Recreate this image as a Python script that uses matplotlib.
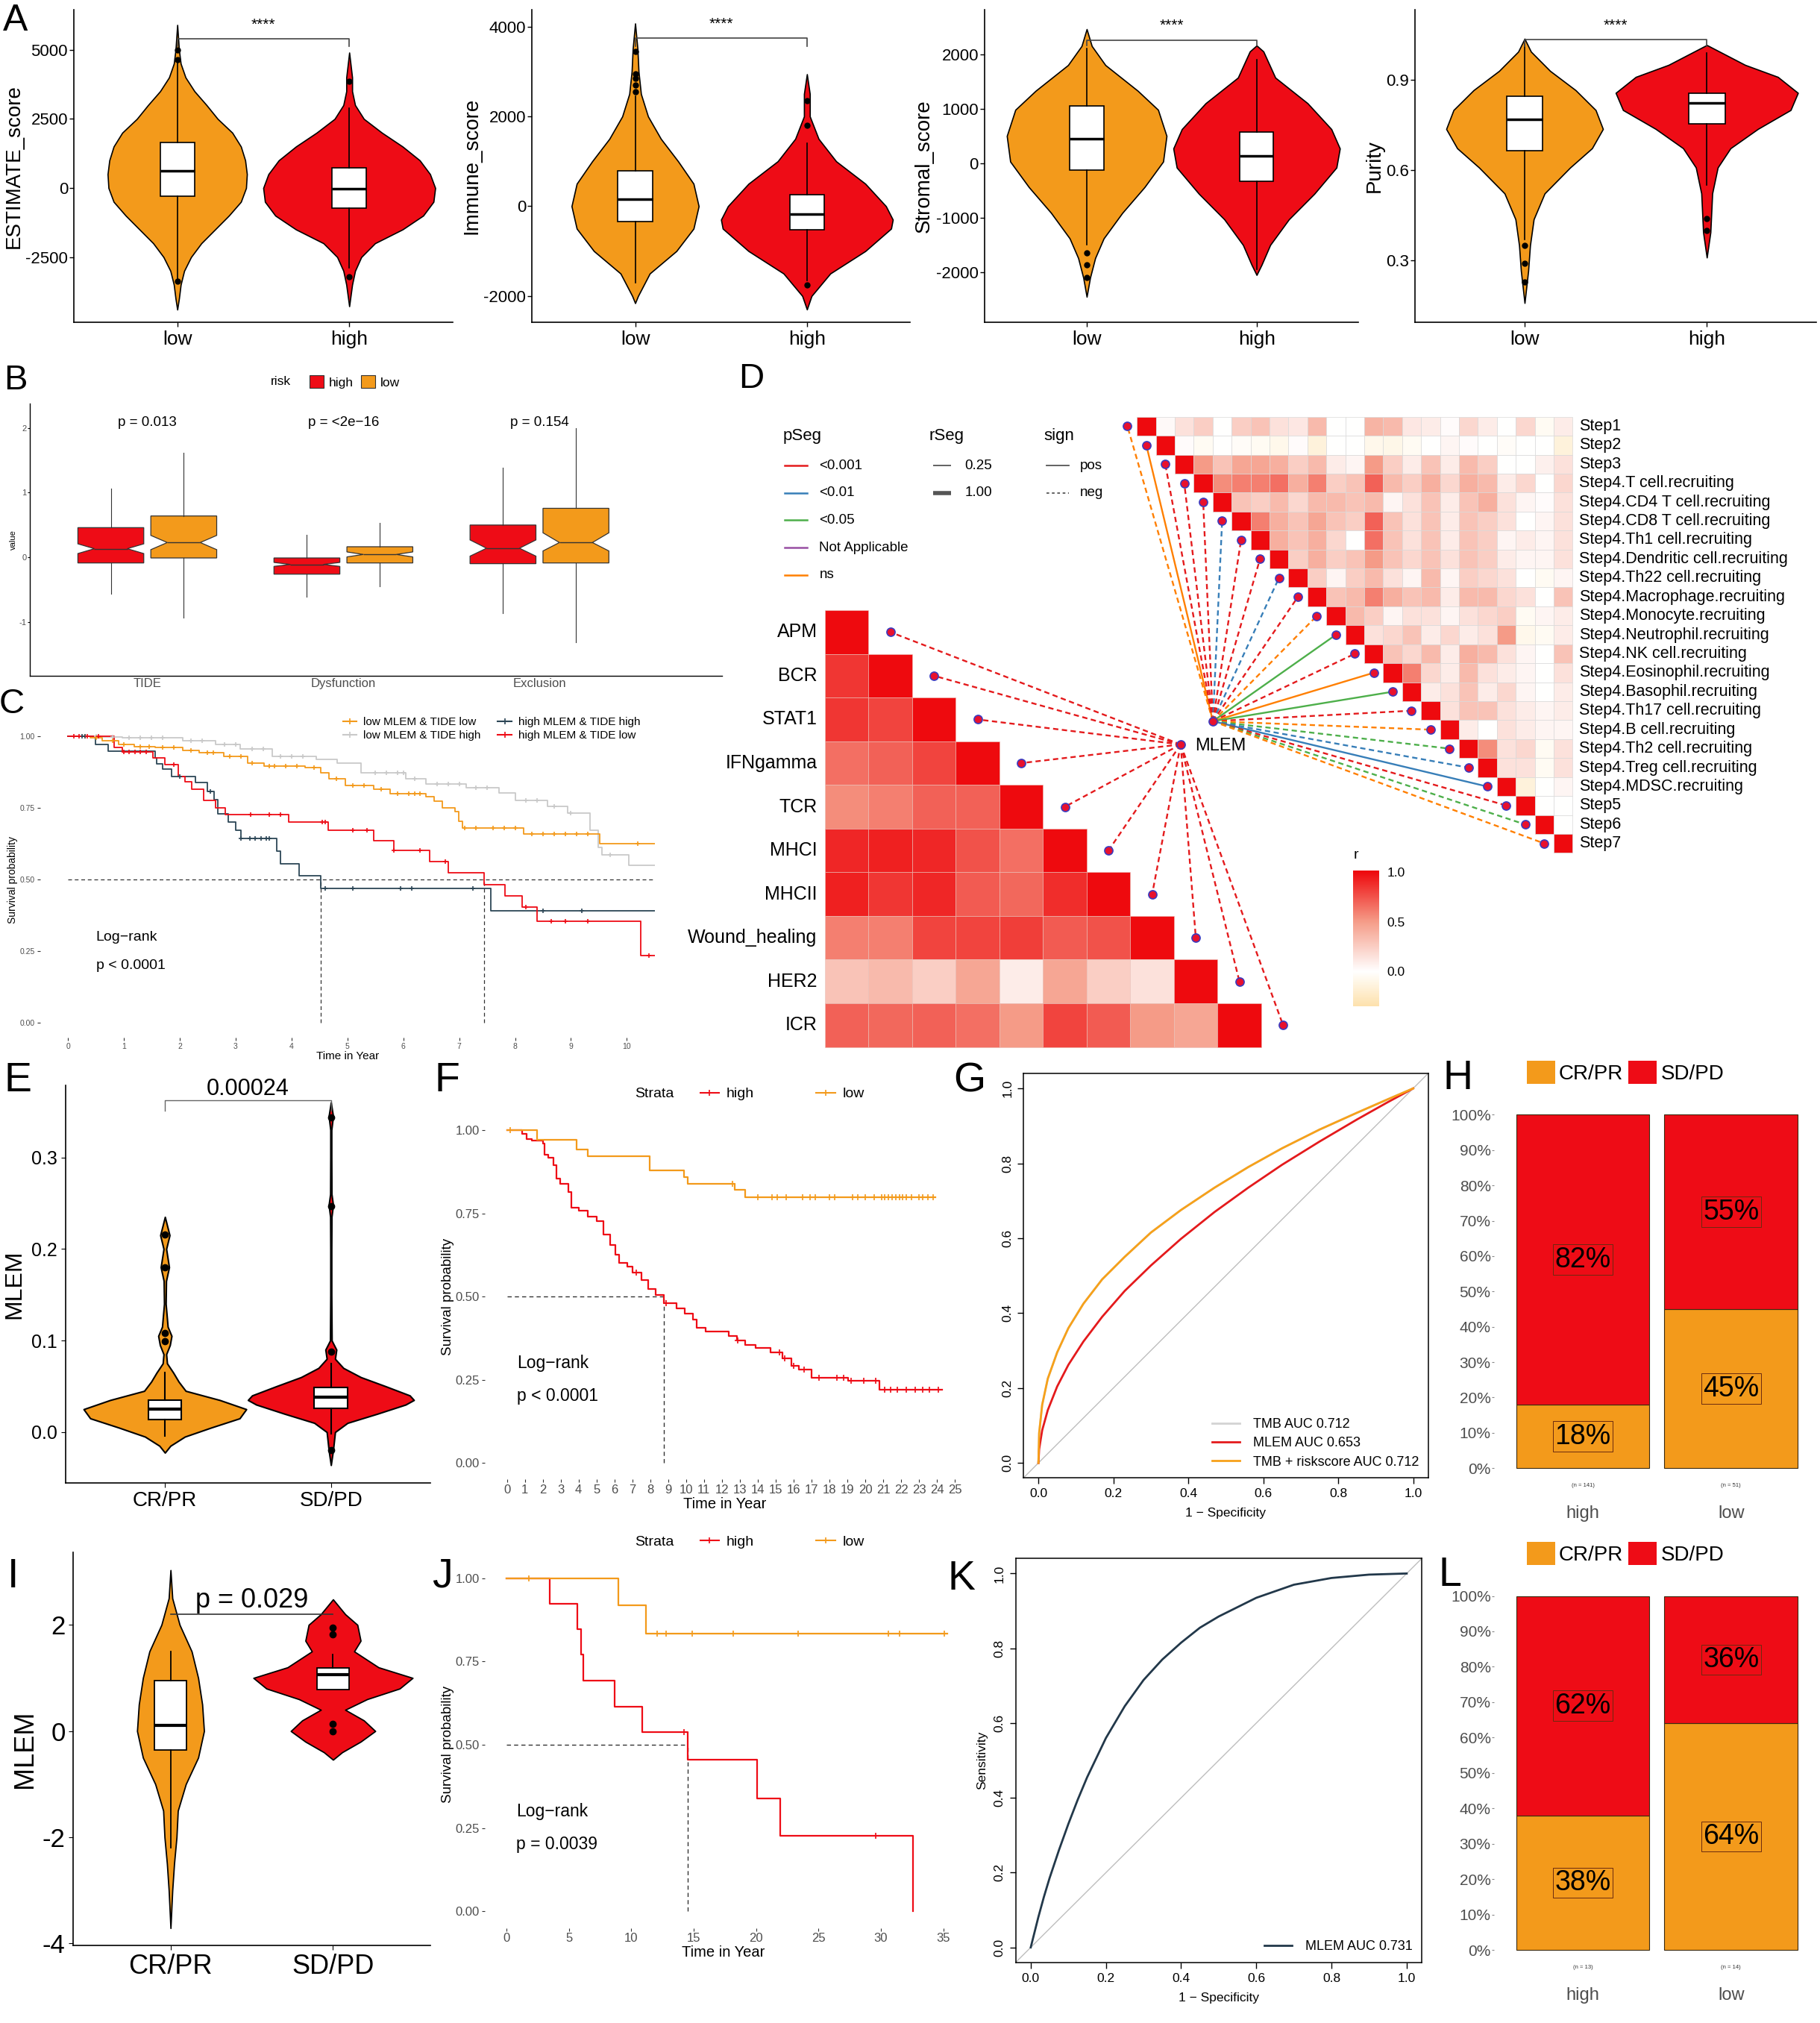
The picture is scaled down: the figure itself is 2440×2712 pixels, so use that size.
# -*- coding: utf-8 -*-
"""Multi-panel immune / response figure (panels A-L), redrawn with matplotlib."""

import numpy as np
import matplotlib
matplotlib.use('Agg')
import matplotlib.pyplot as plt
from matplotlib.colors import LinearSegmentedColormap, Normalize
from matplotlib.cm import ScalarMappable
from matplotlib.lines import Line2D
from matplotlib.patches import Patch

REG = ['Liberation Sans', 'DejaVu Sans']
NAR = ['Liberation Sans Narrow', 'Liberation Sans', 'DejaVu Sans']
plt.rcParams['font.family'] = REG
plt.rcParams['axes.unicode_minus'] = False

ORANGE = '#F39A1B'
RED = '#EE0C16'
SLATE = '#2C4656'
LGRAY = '#C9C9C9'
TXTGRAY = '#4D4D4D'

# ------------------------------------------------------------------ data
# A: violin outlines (value, half width) and box stats [whislo, q1, med, q3, whishi]
est_low_y = [-4400, -4000, -3500, -3000, -2500, -2000, -1500, -1000, -500, 0, 500,
             1000, 1500, 2000, 2500, 3000, 3500, 4000, 4500, 5000, 5900]
est_low_w = [0, 0.01, 0.02, 0.04, 0.08, 0.14, 0.22, 0.30, 0.37, 0.40, 0.405,
             0.395, 0.37, 0.32, 0.235, 0.17, 0.10, 0.048, 0.02, 0.01, 0]
est_high_y = [-4280, -3500, -3000, -2500, -2000, -1500, -1000, -500, 0, 500, 1000,
              1500, 2000, 2500, 3000, 3500, 4000, 4900]
est_high_w = [0, 0.017, 0.034, 0.07, 0.15, 0.31, 0.43, 0.49, 0.50, 0.47, 0.41,
              0.31, 0.19, 0.085, 0.034, 0.017, 0.017, 0]
est_low_box = [-3300, -300, 620, 1650, 4550]
est_high_box = [-2900, -730, -18, 720, 2900]
est_low_out = [5000, 4650, -3380]
est_high_out = [3850, -3200]

imm_low_y = [-2160, -2000, -1500, -1000, -500, 0, 500, 1000, 1500, 2000, 2500, 3000, 3500, 4070]
imm_low_w = [0, 0.017, 0.085, 0.24, 0.34, 0.37, 0.34, 0.25, 0.15, 0.075, 0.034, 0.02, 0.014, 0]
imm_high_y = [-2300, -2000, -1500, -1000, -500, -300, 0, 500, 1000, 1500, 2000, 2500, 2940]
imm_high_w = [0, 0.027, 0.136, 0.34, 0.49, 0.50, 0.46, 0.34, 0.17, 0.068, 0.017, 0.017, 0]
imm_low_box = [-1700, -350, 150, 787, 2450]
imm_high_box = [-1650, -525, -180, 250, 1400]
imm_low_out = [3450, 2950, 2850, 2700, 2550]
imm_high_out = [2350, 1800, -1750]

str_low_y = [-2450, -2100, -1740, -1380, -910, -440, 30, 500, 980, 1330, 1800, 2150, 2460]
str_low_w = [0, 0.02, 0.05, 0.10, 0.21, 0.34, 0.45, 0.47, 0.42, 0.30, 0.11, 0.03, 0]
str_high_y = [-2050, -1860, -1500, -1030, -560, -80, 270, 625, 1100, 1570, 2050, 2160]
str_high_w = [0, 0.03, 0.08, 0.19, 0.34, 0.47, 0.49, 0.44, 0.30, 0.11, 0.04, 0]
str_low_box = [-1500, -120, 450, 1050, 2100]
str_high_box = [-1950, -330, 140, 570, 1900]
str_low_out = [-1650, -1870, -2100]
str_high_out = []

pur_low_y = [0.159, 0.266, 0.35, 0.437, 0.523, 0.609, 0.673, 0.737, 0.80, 0.866, 0.93, 0.994, 1.037]
pur_low_w = [0, 0.02, 0.03, 0.05, 0.11, 0.25, 0.37, 0.43, 0.39, 0.28, 0.14, 0.035, 0]
pur_high_y = [0.31, 0.394, 0.523, 0.609, 0.673, 0.737, 0.80, 0.857, 0.91, 0.95, 0.994, 1.016]
pur_high_w = [0, 0.02, 0.03, 0.06, 0.13, 0.28, 0.46, 0.50, 0.39, 0.21, 0.07, 0]
pur_low_box = [0.37, 0.665, 0.77, 0.845, 1.02]
pur_high_box = [0.55, 0.754, 0.823, 0.857, 0.99]
pur_low_out = [0.35, 0.29, 0.23]
pur_high_out = [0.44, 0.40]

# B: TIDE boxes [whislo, q1, med, q3, whishi] and notch [cilo, cihi]
b_groups = ['TIDE', 'Dysfunction', 'Exclusion']
b_high_box = [[-0.565, -0.085, 0.135, 0.46, 1.065],
              [-0.608, -0.258, -0.108, -0.008, 0.354],
              [-0.865, -0.096, 0.142, 0.50, 1.38]]
b_low_box = [[-0.93, -0.008, 0.23, 0.64, 1.61],
             [-0.44, -0.085, 0.046, 0.165, 0.53],
             [-1.31, -0.085, 0.23, 0.758, 1.99]]
b_high_notch = [[0.06, 0.21], [-0.138, -0.077], [0.02, 0.27]]
b_low_notch = [[0.12, 0.34], [0.008, 0.085], [0.10, 0.38]]
b_pvals = ['p = 0.013', 'p = <2e\u221216', 'p = 0.154']

# C: Kaplan-Meier, four MLEM x TIDE strata
c_ll_t = [0, 0.40, 0.62, 0.91, 1.19, 1.56, 2.06, 2.35, 2.79, 3.22, 3.51, 4.24, 4.53, 4.67,
          4.96, 5.47, 5.76, 6.41, 6.55, 6.70, 6.92, 6.99, 7.06, 8.15, 9.52, 10.5]
c_ll_s = [1.0, 0.994, 0.985, 0.972, 0.964, 0.96, 0.95, 0.942, 0.929, 0.907, 0.896, 0.89, 0.873,
          0.851, 0.829, 0.816, 0.799, 0.79, 0.773, 0.751, 0.738, 0.704, 0.679, 0.659, 0.626, 0.626]
c_ll_cens = [0.3, 0.5, 0.8, 1.0, 1.3, 1.45, 1.7, 1.9, 2.2, 2.5, 2.6, 2.9, 3.1, 3.3, 3.6, 3.7,
             3.9, 4.1, 4.4, 4.8, 5.1, 5.3, 5.6, 5.9, 6.1, 6.2, 6.3, 7.1, 7.3, 7.6, 7.8, 8.0,
             8.3, 8.5, 8.7, 8.9, 9.1, 9.3, 10.2]
c_lh_t = [0, 0.62, 0.98, 2.06, 2.64, 3.08, 3.66, 4.45, 4.82, 5.25, 6.05, 6.41, 7.13, 7.71,
          8.0, 8.58, 8.94, 9.34, 9.49, 9.56, 10.03, 10.5]
c_lh_s = [1.0, 0.997, 0.994, 0.985, 0.972, 0.955, 0.929, 0.92, 0.905, 0.873, 0.851, 0.834,
          0.821, 0.803, 0.777, 0.756, 0.732, 0.673, 0.613, 0.587, 0.549, 0.549]
c_lh_cens = [0.5, 0.8, 1.1, 1.3, 1.5, 1.7, 2.2, 2.4, 2.8, 3.0, 3.3, 3.5, 3.8, 4.0, 4.2, 5.5,
             5.7, 5.9, 6.0, 6.2, 6.6, 6.8, 7.0, 7.3, 7.5, 8.2, 8.4, 8.7, 9.0, 9.7]
c_hh_t = [0, 0.49, 0.72, 1.56, 1.59, 1.70, 1.86, 2.28, 2.50, 2.61, 2.68, 2.87, 3.00, 3.09,
          3.74, 3.80, 4.14, 4.53, 7.57, 10.5]
c_hh_s = [1.0, 0.972, 0.948, 0.925, 0.903, 0.886, 0.86, 0.838, 0.808, 0.78, 0.73, 0.70, 0.673,
          0.643, 0.60, 0.556, 0.513, 0.47, 0.39, 0.39]
c_hh_cens = [0.25, 0.3, 2.0, 2.55, 3.1, 3.25, 3.35, 3.45, 3.55, 3.6, 4.6, 5.1, 5.95, 6.15,
             7.25, 8.5, 9.2]
c_hl_t = [0, 0.83, 0.98, 1.52, 1.74, 1.98, 2.10, 2.21, 2.43, 2.64, 2.82, 3.95, 4.66, 5.47,
          5.83, 6.47, 6.81, 7.44, 7.82, 8.13, 8.40, 10.25, 10.5]
c_hl_s = [1.0, 0.96, 0.946, 0.925, 0.90, 0.86, 0.842, 0.816, 0.777, 0.751, 0.727, 0.70, 0.673,
          0.636, 0.602, 0.563, 0.523, 0.483, 0.444, 0.405, 0.354, 0.236, 0.236]
c_hl_cens = [0.1, 0.2, 0.35, 0.55, 1.0, 1.1, 1.2, 1.3, 1.4, 1.9, 3.27, 3.6, 3.8, 4.55, 4.6,
             5.1, 5.35, 5.83, 6.3, 6.75, 8.2, 8.65, 8.9, 9.3, 10.4]
c_medians = [4.53, 7.44]

# D: correlation heatmaps
immune_sets = ['APM', 'BCR', 'STAT1', 'IFNgamma', 'TCR', 'MHCI', 'MHCII',
               'Wound_healing', 'HER2', 'ICR']
immune_r = [[1.0],
            [0.85, 1.0],
            [0.85, 0.80, 1.0],
            [0.65, 0.70, 0.80, 1.0],
            [0.55, 0.60, 0.70, 0.70, 1.0],
            [0.90, 0.92, 0.90, 0.75, 0.65, 1.0],
            [0.92, 0.85, 0.90, 0.72, 0.68, 0.88, 1.0],
            [0.60, 0.60, 0.80, 0.80, 0.82, 0.72, 0.75, 1.0],
            [0.30, 0.35, 0.25, 0.45, 0.10, 0.45, 0.25, 0.15, 1.0],
            [0.70, 0.68, 0.70, 0.65, 0.50, 0.80, 0.72, 0.50, 0.45, 1.0]]
steps = ['Step1', 'Step2', 'Step3', 'Step4.T cell.recruiting', 'Step4.CD4 T cell.recruiting',
         'Step4.CD8 T cell.recruiting', 'Step4.Th1 cell.recruiting',
         'Step4.Dendritic cell.recruiting', 'Step4.Th22 cell.recruiting',
         'Step4.Macrophage.recruiting', 'Step4.Monocyte.recruiting',
         'Step4.Neutrophil.recruiting', 'Step4.NK cell.recruiting',
         'Step4.Eosinophil.recruiting', 'Step4.Basophil.recruiting',
         'Step4.Th17 cell.recruiting', 'Step4.B cell.recruiting', 'Step4.Th2 cell.recruiting',
         'Step4.Treg cell.recruiting', 'Step4.MDSC.recruiting', 'Step5', 'Step6', 'Step7']
# off-diagonal r to the right of each diagonal cell
step_r = [[0.03, 0.15, 0.25, 0.0, 0.25, 0.3, 0.15, 0.12, 0.35, 0.0, 0.0, 0.38, 0.35, 0.12, 0.1, 0.02, 0.2, 0.1, 0.0, 0.2, -0.05, 0.1],
          [0.02, -0.05, 0.0, -0.03, -0.05, -0.08, 0.02, -0.15, 0.0, 0.0, -0.08, -0.1, -0.05, 0.0, 0.05, 0.02, 0.0, -0.03, 0.0, 0.0, -0.15],
          [0.5, 0.3, 0.45, 0.45, 0.4, 0.25, 0.35, 0.1, 0.05, 0.5, 0.25, 0.1, 0.3, 0.1, 0.35, 0.25, 0.0, 0.0, 0.08, 0.15],
          [0.55, 0.6, 0.6, 0.65, 0.4, 0.6, 0.25, 0.3, 0.7, 0.35, 0.25, 0.4, 0.2, 0.4, 0.35, 0.1, 0.2, 0.0, 0.2],
          [0.3, 0.25, 0.35, 0.2, 0.35, 0.35, 0.3, 0.35, 0.05, 0.15, 0.3, 0.1, 0.3, 0.4, 0.15, 0.05, 0.02, 0.15],
          [0.6, 0.4, 0.3, 0.45, 0.3, 0.25, 0.7, 0.3, 0.15, 0.3, 0.1, 0.3, 0.25, 0.15, 0.0, 0.05, 0.15],
          [0.4, 0.3, 0.4, 0.2, 0.0, 0.65, 0.3, 0.15, 0.3, 0.1, 0.3, 0.25, 0.05, 0.1, 0.05, 0.15],
          [0.25, 0.4, 0.25, 0.3, 0.5, 0.3, 0.2, 0.3, 0.15, 0.3, 0.25, 0.1, 0.05, 0.05, 0.15],
          [0.25, 0.05, 0.25, 0.35, 0.15, 0.05, 0.35, 0.05, 0.25, 0.2, 0.15, 0.0, -0.05, 0.05],
          [0.3, 0.35, 0.6, 0.4, 0.3, 0.35, 0.1, 0.35, 0.35, 0.2, 0.15, 0.0, 0.3],
          [0.35, 0.25, 0.05, 0.15, 0.15, 0.05, 0.15, 0.2, 0.25, -0.05, 0.05, 0.1],
          [0.15, 0.2, 0.3, 0.1, 0.2, 0.1, 0.15, 0.5, -0.08, -0.05, 0.1],
          [0.3, 0.2, 0.35, 0.1, 0.4, 0.35, 0.15, 0.05, 0.0, 0.3],
          [0.6, 0.2, 0.1, 0.35, 0.15, 0.1, 0.05, 0.0, 0.15],
          [0.1, 0.15, 0.3, 0.1, 0.2, 0.05, 0.0, 0.1],
          [0.15, 0.3, 0.3, 0.15, 0.1, 0.05, 0.1],
          [0.1, 0.0, 0.15, 0.1, 0.05, 0.05],
          [0.55, 0.15, 0.2, -0.05, 0.15],
          [0.15, 0.15, -0.05, 0.15],
          [-0.15, 0.0, 0.05],
          [0.0, 0.0],
          [0.0],
          []]
step_p = ['ns', 'ns', '<0.001', '<0.001', '<0.001', '<0.01', '<0.001', '<0.001', '<0.01',
          '<0.001', 'ns', '<0.05', '<0.001', 'ns', '<0.05', '<0.001', 'ns', '<0.05', '<0.01',
          '<0.01', '<0.001', '<0.05', 'ns']
step_sign = ['neg', 'pos', 'neg', 'neg', 'neg', 'neg', 'neg', 'neg', 'neg', 'neg', 'neg', 'pos',
             'neg', 'pos', 'pos', 'neg', 'neg', 'neg', 'neg', 'pos', 'neg', 'neg', 'neg']
immune_p = ['<0.001'] * 10
immune_sign = ['neg'] * 10
p_levels = ['<0.001', '<0.01', '<0.05', 'Not Applicable', 'ns']
p_colors = ['#E41A1C', '#377EB8', '#4DAF4A', '#984EA3', '#FF7F00']

# E / I: MLEM by response
resp_groups = ['CR/PR', 'SD/PD']
e_cr_y = [-0.0225, -0.015, -0.005, 0.005, 0.015, 0.025, 0.035, 0.045, 0.055, 0.065, 0.075,
          0.085, 0.095, 0.105, 0.115, 0.14, 0.165, 0.18, 0.2, 0.215, 0.235]
e_cr_w = [0, 0.033, 0.12, 0.28, 0.45, 0.49, 0.33, 0.125, 0.083, 0.05, 0.013, 0.008, 0.03,
          0.04, 0.017, 0.005, 0.007, 0.025, 0.008, 0.028, 0]
e_sd_y = [-0.036, -0.02, 0.0, 0.01, 0.02, 0.03, 0.035, 0.04, 0.05, 0.06, 0.07, 0.08, 0.09,
          0.1, 0.15, 0.2, 0.235, 0.248, 0.26, 0.3, 0.33, 0.345, 0.36]
e_sd_w = [0, 0.013, 0.025, 0.1, 0.28, 0.45, 0.5, 0.475, 0.33, 0.18, 0.075, 0.025, 0.033,
          0.005, 0.003, 0.003, 0.004, 0.013, 0.004, 0.003, 0.003, 0.013, 0]
e_cr_box = [-0.004, 0.014, 0.025, 0.035, 0.065]
e_sd_box = [-0.002, 0.026, 0.038, 0.049, 0.075]
e_cr_out = [0.216, 0.18, 0.108, 0.099]
e_sd_out = [0.344, 0.247, 0.088, -0.02]

i_cr_y = [-3.71, -3.0, -2.5, -2.0, -1.5, -1.0, -0.5, 0.0, 0.5, 1.0, 1.5, 2.0, 2.5, 3.03]
i_cr_w = [0, 0.011, 0.022, 0.037, 0.045, 0.094, 0.17, 0.206, 0.195, 0.17, 0.13, 0.056, 0.011, 0]
i_sd_y = [-0.54, -0.4, -0.2, 0.0, 0.2, 0.4, 0.6, 0.8, 1.0, 1.2, 1.5, 1.7, 2.0, 2.2, 2.48]
i_sd_w = [0, 0.056, 0.17, 0.26, 0.19, 0.075, 0.21, 0.41, 0.49, 0.28, 0.13, 0.17, 0.15, 0.075, 0]
i_cr_box = [-2.2, -0.35, 0.105, 0.95, 1.5]
i_sd_box = [0.78, 0.78, 1.06, 1.19, 1.44]
i_cr_out = []
i_sd_out = [1.95, 1.82, 0.13, 0.0]

# F / J: Kaplan-Meier by risk
f_low_t = [0, 1.67, 3.9, 4.5, 7.95, 9.88, 10.1, 12.7, 13.3, 23.9]
f_low_s = [1.0, 0.97, 0.941, 0.921, 0.879, 0.86, 0.839, 0.82, 0.798, 0.798]
f_low_cens = [0.2, 12.6, 14.0, 14.8, 15.1, 15.6, 16.5, 16.9, 17.2, 18.0, 18.3, 19.3, 19.6,
              20.0, 20.5, 20.9, 21.1, 21.3, 21.5, 21.7, 21.9, 22.1, 22.3, 22.6, 23.0, 23.2,
              23.5, 23.8]
f_high_t = [0, 0.83, 1.12, 1.41, 2.0, 2.09, 2.29, 2.58, 2.77, 2.97, 3.45, 3.6, 4.03, 4.5, 5.0,
            5.39, 5.78, 6.07, 6.26, 6.74, 7.03, 7.52, 7.9, 8.29, 8.78, 9.46, 9.94, 10.4, 10.6,
            11.1, 12.4, 12.85, 13.3, 13.9, 14.7, 15.4, 15.9, 16.3, 17.0, 19.05, 20.8, 24.3]
f_high_s = [1.0, 0.99, 0.973, 0.968, 0.96, 0.926, 0.917, 0.895, 0.855, 0.838, 0.815, 0.767,
            0.758, 0.74, 0.727, 0.687, 0.656, 0.625, 0.602, 0.589, 0.571, 0.549, 0.523, 0.505,
            0.481, 0.465, 0.449, 0.43, 0.407, 0.394, 0.381, 0.367, 0.354, 0.345, 0.332, 0.314,
            0.292, 0.28, 0.256, 0.248, 0.221, 0.221]
f_high_cens = [7.2, 8.9, 12.9, 15.2, 15.5, 16.0, 16.6, 17.4, 18.4, 18.8, 19.2, 19.9, 20.6,
               21.1, 21.4, 21.8, 22.3, 22.8, 23.2, 23.6, 24.1]
f_median = 8.78

j_low_t = [0, 8.98, 11.2, 35.3]
j_low_s = [1.0, 0.918, 0.834, 0.834]
j_low_cens = [1.8, 12.1, 12.8, 14.9, 18.2, 23.4, 30.6, 31.5, 35.1]
j_high_t = [0, 3.46, 5.66, 6.0, 6.15, 8.68, 10.9, 14.5, 20.1, 21.95, 32.6]
j_high_s = [1.0, 0.924, 0.847, 0.77, 0.692, 0.615, 0.539, 0.454, 0.339, 0.227, 0.0]
j_high_cens = [14.2, 29.6]
j_median = 14.5

# G / K: ROC curves
g_fpr = [0, 0.002, 0.01, 0.025, 0.05, 0.08, 0.12, 0.17, 0.23, 0.3, 0.38, 0.47, 0.56, 0.65,
         0.75, 0.85, 0.93, 1.0]
g_tmb_tpr = [0, 0.08, 0.155, 0.225, 0.295, 0.36, 0.425, 0.49, 0.55, 0.615, 0.675, 0.735,
             0.79, 0.84, 0.89, 0.935, 0.97, 1.0]
g_mlem_tpr = [0, 0.037, 0.087, 0.141, 0.204, 0.262, 0.324, 0.39, 0.459, 0.527, 0.598, 0.67,
              0.735, 0.796, 0.858, 0.917, 0.962, 1.0]
g_combo_tpr = [0, 0.08, 0.155, 0.225, 0.295, 0.36, 0.425, 0.49, 0.55, 0.615, 0.675, 0.735,
               0.79, 0.84, 0.89, 0.935, 0.97, 1.0]
g_labels = ['TMB AUC 0.712', 'MLEM AUC 0.653', 'TMB + riskscore AUC 0.712']
k_fpr = [0, 0.01, 0.02, 0.035, 0.05, 0.075, 0.1, 0.125, 0.15, 0.2, 0.25, 0.3, 0.35, 0.4,
         0.45, 0.5, 0.6, 0.7, 0.8, 0.9, 1.0]
k_tpr = [0, 0.04, 0.08, 0.135, 0.185, 0.26, 0.33, 0.395, 0.455, 0.56, 0.645, 0.715, 0.77,
         0.815, 0.855, 0.885, 0.935, 0.97, 0.988, 0.997, 1.0]
k_label = 'MLEM AUC 0.731'

# H / L: response share by risk group (%)
risk_groups = ['high', 'low']
h_crpr = [18, 45]
h_sdpd = [82, 55]
h_n = [141, 51]
l_crpr = [38, 64]
l_sdpd = [62, 36]
l_n = [13, 14]

# ------------------------------------------------------------------ layout helpers
REF_W, REF_H = 1412.0, 1568.0


def rect(x0, y0, x1, y1):
    return [x0 / REF_W, 1 - y1 / REF_H, (x1 - x0) / REF_W, (y1 - y0) / REF_H]


def fpos(x, y):
    return x / REF_W, 1 - y / REF_H


def classic(ax, lw=1.2):
    for s in ('top', 'right'):
        ax.spines[s].set_visible(False)
    for s in ('left', 'bottom'):
        ax.spines[s].set_linewidth(lw)


def violins(ax, profiles, boxes, outs, fills, box_w=0.2, lw=1.2, med_lw=2.5, ms=5):
    for i, ((ys, ws), col) in enumerate(zip(profiles, fills)):
        ys = np.asarray(ys, float)
        ws = np.asarray(ws, float)
        ax.fill_betweenx(ys, i + 1 - ws, i + 1 + ws, facecolor=col, edgecolor='black',
                         lw=lw, zorder=1)
    stats = [dict(whislo=b[0], q1=b[1], med=b[2], q3=b[3], whishi=b[4], fliers=o)
             for b, o in zip(boxes, outs)]
    ax.bxp(stats, positions=list(range(1, len(stats) + 1)), widths=box_w, patch_artist=True,
           showcaps=False, manage_ticks=False, zorder=2,
           boxprops=dict(facecolor='white', edgecolor='black', linewidth=lw),
           medianprops=dict(color='black', lw=med_lw),
           whiskerprops=dict(color='black', lw=lw),
           flierprops=dict(marker='o', markerfacecolor='black', markeredgecolor='black',
                           markersize=ms, linestyle='none'))
    ax.set_xlim(0.4, len(stats) + 0.6)


def bracket(ax, y, drop, color='#444444', lw=1.2):
    ax.plot([1, 1, 2, 2], [y - drop, y, y, y - drop], color=color, lw=lw, clip_on=False)


def km(ax, t, s, cens, color, lw=1.6, ms=6):
    t = np.asarray(t, float)
    s = np.asarray(s, float)
    ax.step(t, s, where='post', color=color, lw=lw, zorder=3)
    idx = np.searchsorted(t, cens, side='right') - 1
    ax.plot(cens, s[idx], '+', color=color, ms=ms, mew=1.2, zorder=4)


def km_style(ax, xlim, xticks, fs, fam):
    for s in ax.spines.values():
        s.set_visible(False)
    ax.set_xlim(*xlim)
    ax.set_ylim(-0.05, 1.05)
    ax.set_xticks(xticks)
    ax.set_yticks([0, 0.25, 0.5, 0.75, 1.0])
    ax.set_yticklabels(['0.00', '0.25', '0.50', '0.75', '1.00'])
    ax.tick_params(length=3, width=0.8, color='#333333', labelcolor=TXTGRAY, labelsize=fs,
                   pad=2)
    for lab in ax.get_xticklabels() + ax.get_yticklabels():
        lab.set_family(fam)


fig = plt.figure(figsize=(24.4, 27.12), dpi=100)

# ------------------------------------------------------------------ A
a_specs = [
    ((57.5, 7.6, 351, 250), 'ESTIMATE_score', (-4869, 6447), [-2500, 0, 2500, 5000],
     [(est_low_y, est_low_w), (est_high_y, est_high_w)], [est_low_box, est_high_box],
     [est_low_out, est_high_out], 5385, 250, 5900),
    ((412.8, 7.6, 706, 250), 'Immune_score', (-2592, 4374), [-2000, 0, 2000, 4000],
     [(imm_low_y, imm_low_w), (imm_high_y, imm_high_w)], [imm_low_box, imm_high_box],
     [imm_low_out, imm_high_out], 3740, 170, 4050),
    ((764, 7.6, 1054, 250), 'Stromal_score', (-2923, 2814), [-2000, -1000, 0, 1000, 2000],
     [(str_low_y, str_low_w), (str_high_y, str_high_w)], [str_low_box, str_high_box],
     [str_low_out, str_high_out], 2260, 100, 2520),
    ((1098, 7.6, 1409, 250), 'Purity', (0.094, 1.133), [0.3, 0.6, 0.9],
     [(pur_low_y, pur_low_w), (pur_high_y, pur_high_w)], [pur_low_box, pur_high_box],
     [pur_low_out, pur_high_out], 1.033, 0.02, 1.08),
]
for r, ylab, ylim, yt, prof, bxs, outs, by, bd, sy in a_specs:
    ax = fig.add_axes(rect(*r))
    violins(ax, prof, bxs, outs, [ORANGE, RED])
    bracket(ax, by, bd)
    ax.text(1.5, sy, '****', ha='center', va='center', fontsize=15, family=NAR)
    ax.set_ylim(*ylim)
    ax.set_yticks(yt)
    ax.set_xticks([1, 2])
    ax.set_xticklabels(['low', 'high'], fontsize=19, family=NAR)
    for lab in ax.get_yticklabels():
        lab.set_family(NAR)
    ax.tick_params(axis='y', labelsize=16, length=4, width=1, pad=2)
    ax.tick_params(axis='x', length=4, width=1)
    ax.set_ylabel(ylab, fontsize=20, labelpad=2)
    classic(ax)

# ------------------------------------------------------------------ B
ax = fig.add_axes(rect(23, 313, 560, 524))
xb = np.arange(1, len(b_groups) + 1)
for boxes, notches, off, col in ((b_high_box, b_high_notch, -0.186, RED),
                                 (b_low_box, b_low_notch, 0.186, ORANGE)):
    stats = [dict(whislo=b[0], q1=b[1], med=b[2], q3=b[3], whishi=b[4], cilo=n[0], cihi=n[1],
                  fliers=[]) for b, n in zip(boxes, notches)]
    ax.bxp(stats, positions=xb + off, widths=0.336, shownotches=True, patch_artist=True,
           showcaps=False, manage_ticks=False,
           boxprops=dict(facecolor=col, edgecolor='#333333', linewidth=0.9),
           medianprops=dict(color='#333333', lw=1.0),
           whiskerprops=dict(color='#333333', lw=0.8))
for x, p in zip(xb, b_pvals):
    ax.text(x, 2.08, p, ha='center', va='center', fontsize=13.5, family=NAR)
ax.set_xlim(0.4, 3.93)
ax.set_ylim(-1.83, 2.37)
ax.set_xticks(xb)
ax.set_xticklabels(b_groups, fontsize=12, color=TXTGRAY, family=NAR)
ax.set_yticks([-1, 0, 1, 2])
ax.tick_params(axis='y', labelsize=8, length=2, labelcolor=TXTGRAY, pad=1)
ax.tick_params(axis='x', length=0, pad=2)
ax.set_ylabel('value', fontsize=8, labelpad=2)
classic(ax, lw=1.0)
fig.text(*fpos(210, 296), 'risk', fontsize=12.5, va='center', ha='left', family=NAR)
fig.legend(handles=[Patch(facecolor=RED, edgecolor='#333333', lw=0.8),
                    Patch(facecolor=ORANGE, edgecolor='#333333', lw=0.8)],
           labels=['high', 'low'], loc='center left', bbox_to_anchor=fpos(231, 296),
           ncol=2, frameon=False, handlelength=1.1, handleheight=1.1,
           handletextpad=0.4, columnspacing=0.6, prop=dict(family=NAR, size=12.5))

# ------------------------------------------------------------------ C
ax = fig.add_axes(rect(31, 559.5, 508, 804))
km(ax, c_lh_t, c_lh_s, c_lh_cens, LGRAY, lw=1.3, ms=5)
km(ax, c_ll_t, c_ll_s, c_ll_cens, ORANGE, lw=1.3, ms=5)
km(ax, c_hh_t, c_hh_s, c_hh_cens, SLATE, lw=1.3, ms=5)
km(ax, c_hl_t, c_hl_s, c_hl_cens, RED, lw=1.3, ms=5)
ax.plot([0, 10.5], [0.5, 0.5], color='#333333', lw=0.9, ls=(0, (4, 3)))
for m in c_medians:
    ax.plot([m, m], [0, 0.5], color='#333333', lw=0.9, ls=(0, (4, 3)))
ax.text(0.5, 0.30, 'Log\u2212rank', fontsize=14, va='center', family=NAR)
ax.text(0.5, 0.20, 'p < 0.0001', fontsize=14, va='center', family=NAR)
km_style(ax, (-0.5, 10.5), range(0, 11), 7.5, NAR)
ax.set_xlabel('Time in Year', fontsize=11, labelpad=1, family=NAR)
ax.set_ylabel('Survival probability', fontsize=10, labelpad=2, family=NAR)
mk = dict(marker='+', ms=6, mew=1.2, lw=1.5)
fig.legend(handles=[Line2D([], [], color=ORANGE, **mk), Line2D([], [], color=LGRAY, **mk),
                    Line2D([], [], color=SLATE, **mk), Line2D([], [], color=RED, **mk)],
           labels=['low MLEM & TIDE low', 'low MLEM & TIDE high',
                   'high MLEM & TIDE high', 'high MLEM & TIDE low'],
           loc='center left', bbox_to_anchor=fpos(258, 565), ncol=2, frameon=False,
           handlelength=1.2, handletextpad=0.6, columnspacing=1.5, labelspacing=0.25,
           prop=dict(family=NAR, size=11))

# ------------------------------------------------------------------ D
ax = fig.add_axes(rect(575, 285, 1412, 820))
ax.set_xlim(575, 1412)
ax.set_ylim(820, 285)
ax.axis('off')
cmap = LinearSegmentedColormap.from_list(
    'rcor', [(0.0, '#FDE1AC'), (0.257, '#FFFFFF'), (0.625, '#F59C88'), (0.993, '#EE0A0E'),
             (1.0, '#EE0A0E')])
norm = Normalize(vmin=-0.35, vmax=1.01)

ux0, uy0, uc = 882.0, 323.0, 14.7      # upper heatmap origin and cell size
lx0, ly0, lc = 640.0, 473.0, 33.85     # lower heatmap origin and cell size
up_node = (941.0, 559.0)
lo_node = (916.0, 577.0)

# upper triangle: diagonal cell then the row's values to its right
for i, row in enumerate(step_r):
    vals = np.array([1.0] + list(row))
    cols = ux0 + uc * np.arange(i, i + len(vals))
    ax.bar(cols, uc, width=uc, bottom=uy0 + uc * i, align='edge', color=cmap(norm(vals)),
           edgecolor='#D9D9D9', linewidth=0.5)
# lower triangle: the row's values up to and including the diagonal
for i, row in enumerate(immune_r):
    vals = np.asarray(row, float)
    cols = lx0 + lc * np.arange(len(vals))
    ax.bar(cols, lc, width=lc, bottom=ly0 + lc * i, align='edge', color=cmap(norm(vals)),
           edgecolor='#E9C0B8', linewidth=0.4)

pcol = dict(zip(p_levels, p_colors))
dash = (0, (3, 2))
for i, (name, p, sg) in enumerate(zip(steps, step_p, step_sign)):
    dx, dy = ux0 + uc * (i - 0.5), uy0 + uc * (i + 0.5)
    ax.plot([up_node[0], dx], [up_node[1], dy], color=pcol[p], lw=1.7,
            ls='-' if sg == 'pos' else dash, zorder=2)
    ax.plot(dx, dy, 'o', ms=8, mfc='#E8112D', mec='#3B3BC0', mew=1.2, zorder=4)
    ax.text(ux0 + uc * len(steps) + 5, dy, name, fontsize=15.5, va='center', ha='left')
for i, (name, p, sg) in enumerate(zip(immune_sets, immune_p, immune_sign)):
    dx, dy = lx0 + lc * (i + 1.5), ly0 + lc * (i + 0.5)
    ax.plot([lo_node[0], dx], [lo_node[1], dy], color=pcol[p], lw=1.7,
            ls='-' if sg == 'pos' else dash, zorder=2)
    ax.plot(dx, dy, 'o', ms=8, mfc='#E8112D', mec='#3B3BC0', mew=1.2, zorder=4)
    ax.text(lx0 - 6, dy, name, fontsize=18, va='center', ha='right')
for node in (up_node, lo_node):
    ax.plot(*node, 'o', ms=8, mfc='#E8112D', mec='#3B3BC0', mew=1.2, zorder=5)
ax.text(lo_node[0] + 11, lo_node[1] + 1, 'MLEM', fontsize=17, va='center', ha='left')

# legend of the link encodings
leg_y = [361, 382, 403, 424.4, 445.6]
ax.text(607.6, 338, 'pSeg', fontsize=16, va='center')
for yy, lab, col in zip(leg_y, p_levels, p_colors):
    ax.plot([609, 626], [yy, yy], color=col, lw=1.8)
    ax.text(635.6, yy, lab, fontsize=13.5, va='center')
ax.text(720.5, 338, 'rSeg', fontsize=16, va='center')
for yy, lab, w in zip(leg_y[:2], ['0.25', '1.00'], [1.3, 4.0]):
    ax.plot([724, 737.6], [yy, yy], color='#555555', lw=w, solid_capstyle='butt')
    ax.text(748.5, yy, lab, fontsize=13.5, va='center')
ax.text(810, 338, 'sign', fontsize=16, va='center')
for yy, lab, ls in zip(leg_y[:2], ['pos', 'neg'], ['-', (0, (2, 2))]):
    ax.plot([812, 829.5], [yy, yy], color='#555555', lw=1.3, ls=ls)
    ax.text(838, yy, lab, fontsize=13.5, va='center')

cax = fig.add_axes(rect(1050, 675, 1070, 780))
cb = fig.colorbar(ScalarMappable(norm=norm, cmap=cmap), cax=cax, ticks=[0, 0.5, 1.0])
cb.outline.set_visible(False)
cb.ax.set_yticklabels(['0.0', '0.5', '1.0'])
cb.ax.tick_params(labelsize=12.5, length=4, color='white', width=1)
fig.text(*fpos(1050, 663), 'r', fontsize=14, va='center', ha='left')

# ------------------------------------------------------------------ E
ax = fig.add_axes(rect(50.7, 841, 334, 1149.6))
violins(ax, [(e_cr_y, e_cr_w), (e_sd_y, e_sd_w)], [e_cr_box, e_sd_box],
        [e_cr_out, e_sd_out], [ORANGE, RED], lw=1.5, med_lw=3, ms=6)
bracket(ax, 0.362, 0.011, color='#666666', lw=1.0)
ax.text(1.5, 0.3625, '0.00024', ha='center', va='bottom', fontsize=22)
ax.set_ylim(-0.0558, 0.379)
ax.set_yticks([0.0, 0.1, 0.2, 0.3])
ax.set_yticklabels(['0.0', '0.1', '0.2', '0.3'])
ax.set_xticks([1, 2])
ax.set_xticklabels(resp_groups, fontsize=20)
ax.tick_params(axis='y', labelsize=18, length=4)
ax.tick_params(axis='x', length=4)
ax.set_ylabel('MLEM', fontsize=23, labelpad=6)
classic(ax)

# ------------------------------------------------------------------ I
ax = fig.add_axes(rect(56.7, 1203, 334, 1508))
violins(ax, [(i_cr_y, i_cr_w), (i_sd_y, i_sd_w)], [i_cr_box, i_sd_box],
        [i_cr_out, i_sd_out], [ORANGE, RED], lw=1.3, med_lw=3, ms=6)
bracket(ax, 2.2, 0.0, color='#333333', lw=1.2)
ax.text(1.5, 2.22, 'p = 0.029', ha='center', va='bottom', fontsize=26)
ax.set_ylim(-4.04, 3.37)
ax.set_yticks([-4, -2, 0, 2])
ax.set_xticks([1, 2])
ax.set_xticklabels(resp_groups, fontsize=26)
ax.tick_params(axis='y', labelsize=25, length=4)
ax.tick_params(axis='x', length=4)
ax.set_ylabel('MLEM', fontsize=26, labelpad=4)
classic(ax)

# ------------------------------------------------------------------ F
ax = fig.add_axes(rect(375.9, 863.1, 749.1, 1146.8))
km(ax, f_high_t, f_high_s, f_high_cens, RED)
km(ax, f_low_t, f_low_s, f_low_cens, ORANGE)
ax.plot([0, f_median], [0.5, 0.5], color='#333333', lw=1.0, ls=(0, (4, 3)))
ax.plot([f_median, f_median], [0, 0.5], color='#333333', lw=1.0, ls=(0, (4, 3)))
ax.text(0.55, 0.30, 'Log\u2212rank', fontsize=16.5, va='center')
ax.text(0.55, 0.20, 'p < 0.0001', fontsize=16.5, va='center')
km_style(ax, (-1.25, 25.6), range(0, 26), 12, REG)
ax.set_xlabel('Time in Year', fontsize=14.5, labelpad=1)
ax.set_ylabel('Survival probability', fontsize=13.5, labelpad=1)

# ------------------------------------------------------------------ J
ax = fig.add_axes(rect(376, 1210.3, 746.3, 1494.3))
km(ax, j_high_t, j_high_s, j_high_cens, RED)
km(ax, j_low_t, j_low_s, j_low_cens, ORANGE)
ax.plot([0, j_median], [0.5, 0.5], color='#333333', lw=1.0, ls=(0, (4, 3)))
ax.plot([j_median, j_median], [0, 0.5], color='#333333', lw=1.0, ls=(0, (4, 3)))
ax.text(0.8, 0.30, 'Log\u2212rank', fontsize=16.5, va='center', family=NAR)
ax.text(0.8, 0.20, 'p = 0.0039', fontsize=16.5, va='center', family=NAR)
km_style(ax, (-1.75, 36.5), range(0, 36, 5), 12, NAR)
ax.set_xlabel('Time in Year', fontsize=14.5, labelpad=1, family=NAR)
ax.set_ylabel('Survival probability', fontsize=13.5, labelpad=1)

for ly in (848, 1195.3):
    fig.text(*fpos(492.5, ly), 'Strata', fontsize=14, va='center', ha='left', family=NAR)
    fig.legend(handles=[Line2D([], [], color=RED, **mk), Line2D([], [], color=ORANGE, **mk)],
               labels=['high', 'low'], loc='center left', bbox_to_anchor=fpos(533, ly),
               ncol=2, frameon=False, handlelength=1.3, handletextpad=0.5,
               columnspacing=4.3, prop=dict(family=NAR, size=14))


# ------------------------------------------------------------------ G / K
def roc_style(ax):
    ax.set_xlim(-0.04, 1.04)
    ax.set_ylim(-0.04, 1.04)
    ticks = [0, 0.2, 0.4, 0.6, 0.8, 1.0]
    ax.set_xticks(ticks)
    ax.set_yticks(ticks)
    ax.set_xticklabels(['%.1f' % v for v in ticks])
    ax.set_yticklabels(['%.1f' % v for v in ticks], rotation=90, va='center')
    ax.tick_params(labelsize=12.5, length=6, width=1, direction='out', pad=4)
    for s in ax.spines.values():
        s.set_linewidth(1.1)
    ax.plot([-0.04, 1.04], [-0.04, 1.04], color='#BEBEBE', lw=1.0, zorder=1)
    ax.set_xlabel('1 \u2212 Specificity', fontsize=12.5, labelpad=8)


ax = fig.add_axes(rect(794, 832, 1108, 1145.5))
roc_style(ax)
ax.plot(g_fpr, g_tmb_tpr, color='#D3D3D3', lw=2)
ax.plot(g_fpr, g_mlem_tpr, color='#E41A1C', lw=2)
ax.plot(g_fpr, g_combo_tpr, color='#F7A11A', lw=2)
ax.legend(handles=[Line2D([], [], color=c, lw=2) for c in ('#D3D3D3', '#E41A1C', '#F7A11A')],
          labels=g_labels, loc='lower right', bbox_to_anchor=(1.0, 0.0), frameon=False,
          fontsize=13, handlelength=2.0, handletextpad=1.0, labelspacing=0.45,
          borderaxespad=0.3)

ax = fig.add_axes(rect(788, 1208, 1103, 1521))
roc_style(ax)
ax.plot(k_fpr, k_tpr, color='#22384A', lw=2)
ax.set_ylabel('Sensitivity', fontsize=12.5, labelpad=6)
ax.legend(handles=[Line2D([], [], color='#22384A', lw=2)], labels=[k_label],
          loc='lower right', frameon=False, fontsize=13, handlelength=2.0,
          handletextpad=1.0, borderaxespad=0.3)


# ------------------------------------------------------------------ H / L
def response_bars(ax, crpr, sdpd, ns):
    x = np.arange(1, len(risk_groups) + 1)
    cr = np.asarray(crpr) / 100.0
    sd = np.asarray(sdpd) / 100.0
    ax.bar(x, cr, width=0.9, color=ORANGE, edgecolor='#3A2A10', lw=0.8)
    ax.bar(x, sd, bottom=cr, width=0.9, color=RED, edgecolor='#3A2A10', lw=0.8)
    box = dict(boxstyle='square,pad=0.06', fc='none', ec='#6A2A10', lw=0.7)
    for xi, c, s, cv, sv in zip(x, cr, sd, crpr, sdpd):
        ax.text(xi, c / 2, '%d%%' % cv, ha='center', va='center', fontsize=27, bbox=box)
        ax.text(xi, c + s / 2, '%d%%' % sv, ha='center', va='center', fontsize=27, bbox=box)
    for xi, n in zip(x, ns):
        ax.text(xi, 0.0, '(n = %d)' % n, ha='center', va='center', fontsize=5.5,
                color='#333333', transform=ax.get_xaxis_transform())
    ax.set_xlim(0.4, 2.6)
    ax.set_ylim(-0.05, 1.05)
    yt = np.arange(0, 11) / 10.0
    ax.set_yticks(yt)
    ax.set_yticklabels(['%d%%' % round(v * 100) for v in yt])
    ax.set_xticks(x)
    ax.set_xticklabels(risk_groups)
    ax.tick_params(axis='y', labelsize=15, labelcolor=TXTGRAY, length=2, color='#888888',
                   pad=1)
    ax.tick_params(axis='x', labelsize=17, labelcolor=TXTGRAY, length=0, pad=19)
    for s in ax.spines.values():
        s.set_visible(False)


for r, crpr, sdpd, ns, legy in (((1159, 850.3, 1412, 1151.7), h_crpr, h_sdpd, h_n, 831),
                                ((1159, 1223.3, 1412, 1525.1), l_crpr, l_sdpd, l_n, 1204)):
    ax = fig.add_axes(rect(*r))
    response_bars(ax, crpr, sdpd, ns)
    fig.legend(handles=[Patch(facecolor=ORANGE), Patch(facecolor=RED)],
               labels=['CR/PR', 'SD/PD'], loc='center', bbox_to_anchor=fpos(1261, legy),
               ncol=2, frameon=False, fontsize=20, handlelength=1.35, handleheight=1.35,
               handletextpad=0.2, columnspacing=0.25, borderpad=0.1)

# ------------------------------------------------------------------ panel letters
letters = [('A', 12, 16, NAR, 36), ('B', 12, 295, NAR, 34), ('C', 9, 546, NAR, 34),
           ('D', 583, 294, REG, 34), ('E', 14, 838, REG, 40), ('F', 347, 838, REG, 40),
           ('G', 752, 838, REG, 40), ('H', 1131, 836, REG, 40), ('I', 10, 1222, NAR, 40),
           ('J', 343, 1222, NAR, 40), ('K', 746, 1224, REG, 40), ('L', 1125, 1221, REG, 40)]
for t, x, y, fam, fs in letters:
    fig.text(*fpos(x, y), t, fontsize=fs, ha='center', va='center', family=fam)

fig.savefig('out.png', dpi=100)
